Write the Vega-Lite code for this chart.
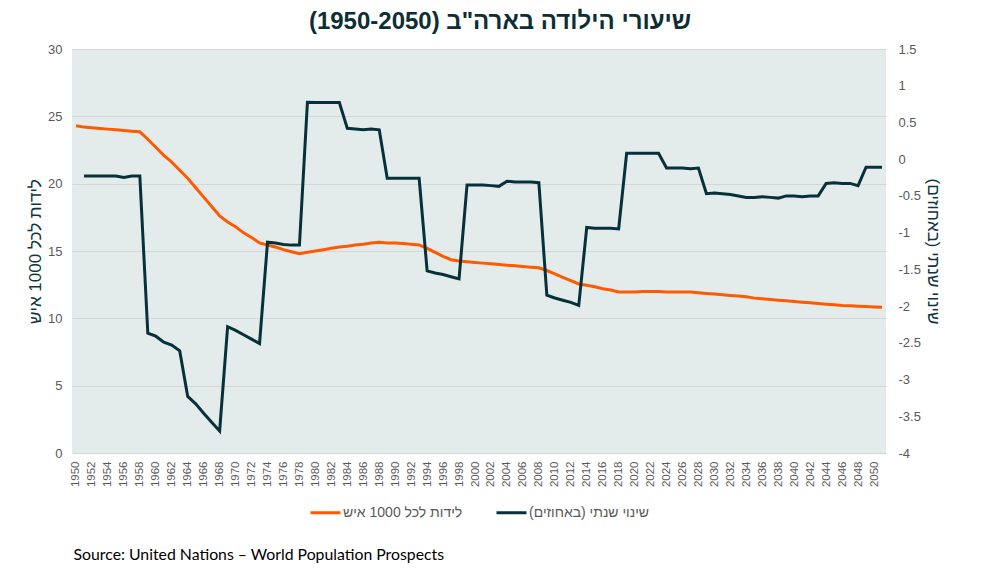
{
  "$schema": "https://vega.github.io/schema/vega-lite/v6.json",
  "background": "white",
  "padding": {"left": 26, "top": 10, "right": 5, "bottom": 5},
  "title": {
    "text": "Source: United Nations – World Population Prospects",
    "orient": "bottom",
    "anchor": "start",
    "frame": "bounds",
    "dx": 47,
    "font": "Lato",
    "fontSize": 15.8,
    "fontWeight": "normal",
    "color": "#000000",
    "offset": 28
  },
  "datasets": {
    "rates": [
      {"year": 1950, "births": 24.3, "change": null},
      {"year": 1951, "births": 24.2, "change": -0.23},
      {"year": 1952, "births": 24.15, "change": -0.23},
      {"year": 1953, "births": 24.1, "change": -0.23},
      {"year": 1954, "births": 24.05, "change": -0.23},
      {"year": 1955, "births": 24.0, "change": -0.23},
      {"year": 1956, "births": 23.95, "change": -0.25},
      {"year": 1957, "births": 23.9, "change": -0.23},
      {"year": 1958, "births": 23.85, "change": -0.23},
      {"year": 1959, "births": 23.3, "change": -2.37},
      {"year": 1960, "births": 22.7, "change": -2.41},
      {"year": 1961, "births": 22.1, "change": -2.49},
      {"year": 1962, "births": 21.6, "change": -2.53},
      {"year": 1963, "births": 21.0, "change": -2.61},
      {"year": 1964, "births": 20.4, "change": -3.23},
      {"year": 1965, "births": 19.7, "change": -3.33},
      {"year": 1966, "births": 19.0, "change": -3.46},
      {"year": 1967, "births": 18.3, "change": -3.58},
      {"year": 1968, "births": 17.6, "change": -3.7},
      {"year": 1969, "births": 17.15, "change": -2.28},
      {"year": 1970, "births": 16.8, "change": -2.33},
      {"year": 1971, "births": 16.35, "change": -2.39},
      {"year": 1972, "births": 16.0, "change": -2.45},
      {"year": 1973, "births": 15.6, "change": -2.51},
      {"year": 1974, "births": 15.45, "change": -1.13},
      {"year": 1975, "births": 15.3, "change": -1.14},
      {"year": 1976, "births": 15.1, "change": -1.16},
      {"year": 1977, "births": 14.95, "change": -1.17},
      {"year": 1978, "births": 14.8, "change": -1.17},
      {"year": 1979, "births": 14.9, "change": 0.775},
      {"year": 1980, "births": 15.0, "change": 0.77},
      {"year": 1981, "births": 15.1, "change": 0.77},
      {"year": 1982, "births": 15.2, "change": 0.77},
      {"year": 1983, "births": 15.3, "change": 0.77},
      {"year": 1984, "births": 15.35, "change": 0.42},
      {"year": 1985, "births": 15.45, "change": 0.41},
      {"year": 1986, "births": 15.5, "change": 0.4},
      {"year": 1987, "births": 15.6, "change": 0.41},
      {"year": 1988, "births": 15.65, "change": 0.4},
      {"year": 1989, "births": 15.6, "change": -0.26},
      {"year": 1990, "births": 15.6, "change": -0.26},
      {"year": 1991, "births": 15.55, "change": -0.26},
      {"year": 1992, "births": 15.5, "change": -0.26},
      {"year": 1993, "births": 15.45, "change": -0.26},
      {"year": 1994, "births": 15.2, "change": -1.52},
      {"year": 1995, "births": 14.9, "change": -1.55},
      {"year": 1996, "births": 14.6, "change": -1.57},
      {"year": 1997, "births": 14.35, "change": -1.6},
      {"year": 1998, "births": 14.25, "change": -1.63},
      {"year": 1999, "births": 14.2, "change": -0.35},
      {"year": 2000, "births": 14.15, "change": -0.35},
      {"year": 2001, "births": 14.1, "change": -0.35},
      {"year": 2002, "births": 14.05, "change": -0.36},
      {"year": 2003, "births": 14.0, "change": -0.37},
      {"year": 2004, "births": 13.95, "change": -0.3},
      {"year": 2005, "births": 13.9, "change": -0.31},
      {"year": 2006, "births": 13.85, "change": -0.31},
      {"year": 2007, "births": 13.8, "change": -0.31},
      {"year": 2008, "births": 13.75, "change": -0.32},
      {"year": 2009, "births": 13.55, "change": -1.85},
      {"year": 2010, "births": 13.3, "change": -1.89},
      {"year": 2011, "births": 13.05, "change": -1.92},
      {"year": 2012, "births": 12.8, "change": -1.95},
      {"year": 2013, "births": 12.55, "change": -1.99},
      {"year": 2014, "births": 12.45, "change": -0.93},
      {"year": 2015, "births": 12.35, "change": -0.94},
      {"year": 2016, "births": 12.2, "change": -0.94},
      {"year": 2017, "births": 12.1, "change": -0.94},
      {"year": 2018, "births": 11.95, "change": -0.95},
      {"year": 2019, "births": 11.95, "change": 0.08},
      {"year": 2020, "births": 11.95, "change": 0.08},
      {"year": 2021, "births": 12.0, "change": 0.08},
      {"year": 2022, "births": 12.0, "change": 0.08},
      {"year": 2023, "births": 12.0, "change": 0.08},
      {"year": 2024, "births": 11.95, "change": -0.12},
      {"year": 2025, "births": 11.95, "change": -0.12},
      {"year": 2026, "births": 11.95, "change": -0.12},
      {"year": 2027, "births": 11.95, "change": -0.13},
      {"year": 2028, "births": 11.9, "change": -0.12},
      {"year": 2029, "births": 11.85, "change": -0.47},
      {"year": 2030, "births": 11.8, "change": -0.46},
      {"year": 2031, "births": 11.75, "change": -0.47},
      {"year": 2032, "births": 11.7, "change": -0.48},
      {"year": 2033, "births": 11.65, "change": -0.5},
      {"year": 2034, "births": 11.6, "change": -0.52},
      {"year": 2035, "births": 11.5, "change": -0.52},
      {"year": 2036, "births": 11.45, "change": -0.51},
      {"year": 2037, "births": 11.4, "change": -0.52},
      {"year": 2038, "births": 11.35, "change": -0.53},
      {"year": 2039, "births": 11.3, "change": -0.5},
      {"year": 2040, "births": 11.25, "change": -0.5},
      {"year": 2041, "births": 11.2, "change": -0.51},
      {"year": 2042, "births": 11.15, "change": -0.5},
      {"year": 2043, "births": 11.1, "change": -0.5},
      {"year": 2044, "births": 11.05, "change": -0.33},
      {"year": 2045, "births": 11.0, "change": -0.32},
      {"year": 2046, "births": 10.95, "change": -0.33},
      {"year": 2047, "births": 10.93, "change": -0.33},
      {"year": 2048, "births": 10.9, "change": -0.36},
      {"year": 2049, "births": 10.87, "change": -0.11},
      {"year": 2050, "births": 10.85, "change": -0.11},
      {"year": 2051, "births": 10.82, "change": -0.11}
    ]
  },
  "vconcat": [
    {
      "width": 814,
      "height": 404,
      "data": {"name": "rates"},
      "title": {
        "text": "שיעורי הילודה בארה\"ב (1950-2050)‏",
        "font": "Liberation Sans",
        "fontSize": 24,
        "fontWeight": "bold",
        "color": "#0d2e35",
        "anchor": "middle",
        "frame": "group",
        "dx": 21,
        "offset": 9
      },
      "encoding": {
        "x": {
          "field": "year",
          "type": "quantitative",
          "scale": {"domain": [1949.5, 2051.5], "nice": false, "zero": false},
          "axis": {
            "title": null,
            "values": [1950,1952,1954,1956,1958,1960,1962,1964,1966,1968,1970,1972,1974,1976,1978,1980,1982,1984,1986,1988,1990,1992,1994,1996,1998,2000,2002,2004,2006,2008,2010,2012,2014,2016,2018,2020,2022,2024,2026,2028,2030,2032,2034,2036,2038,2040,2042,2044,2046,2048,2050],
            "format": "d",
            "labelAngle": 270,
            "labelFontSize": 11.5,
            "labelPadding": 8,
            "labelOverlap": false,
            "labelFlush": false,
            "grid": false,
            "ticks": false,
            "domain": false
          }
        }
      },
      "layer": [
        {
          "mark": {"type": "line", "strokeWidth": 3, "interpolate": "linear"},
          "encoding": {
            "y": {
              "field": "births",
              "type": "quantitative",
              "scale": {"domain": [0, 30], "nice": false},
              "axis": {
                "orient": "left",
                "title": "לידות לכל 1000 איש‏",
                "values": [0, 5, 10, 15, 20, 25, 30],
                "grid": true,
                "labelPadding": 10,
                "titlePadding": 3,
                "titleAngle": 270
              }
            },
            "color": {
              "datum": "לידות לכל 1000 איש‏",
              "type": "nominal",
              "scale": {
                "domain": ["לידות לכל 1000 איש‏", "שינוי שנתי (באחוזים)‏"],
                "range": ["#FF5A00", "#06313A"]
              },
              "legend": {"title": null}
            }
          }
        },
        {
          "mark": {"type": "line", "strokeWidth": 3, "interpolate": "linear"},
          "transform": [{"filter": "datum.change != null"}],
          "encoding": {
            "y": {
              "field": "change",
              "type": "quantitative",
              "scale": {"domain": [-4, 1.5], "nice": false, "zero": false},
              "axis": {
                "orient": "right",
                "title": "שינוי שנתי (באחוזים)‏",
                "values": [-4, -3.5, -3, -2.5, -2, -1.5, -1, -0.5, 0, 0.5, 1, 1.5],
                "labelExpr": "'' + datum.value",
                "grid": false,
                "labelPadding": 12,
                "titlePadding": 3,
                "titleAngle": 90
              }
            },
            "color": {"datum": "שינוי שנתי (באחוזים)‏", "type": "nominal"}
          }
        }
      ],
      "resolve": {"scale": {"y": "independent"}}
    }
  ],
  "config": {
    "font": "Liberation Sans",
    "view": {"fill": "#E3ECEA", "stroke": null},
    "axis": {
      "labelFont": "Liberation Sans",
      "labelFontSize": 13,
      "labelColor": "#595959",
      "titleFont": "Liberation Sans",
      "titleFontSize": 17,
      "titleFontWeight": "normal",
      "titleColor": "#0D3540",
      "gridColor": "#D6D6D6",
      "gridWidth": 1,
      "ticks": false,
      "domain": false
    },
    "legend": {
      "orient": "bottom",
      "direction": "horizontal",
      "symbolType": "stroke",
      "symbolSize": 900,
      "symbolStrokeWidth": 3,
      "labelFont": "Liberation Sans",
      "labelFontSize": 14,
      "labelColor": "#595959",
      "labelOffset": 1,
      "columnPadding": 27,
      "offset": 9,
      "layout": {"bottom": {"anchor": "middle"}}
    }
  }
}
